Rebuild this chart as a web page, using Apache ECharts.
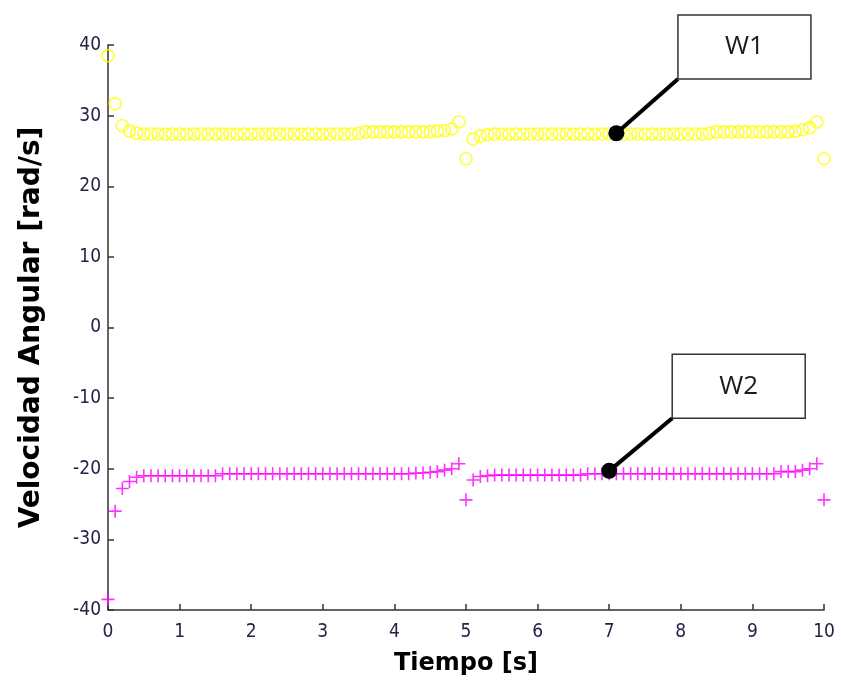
<!DOCTYPE html>
<html>
<head>
<meta charset="utf-8">
<script src="https://cdn.jsdelivr.net/npm/echarts@6/dist/echarts.min.js"></script>
<style>
  html, body { margin: 0; padding: 0; background: #fff; }
  #chart { width: 841px; height: 689px; }
</style>
</head>
<body>
<div id="chart"></div>
<script>
  // time samples [s]
  var tiempo = [
    0.0, 0.1, 0.2, 0.3, 0.4, 0.5, 0.6, 0.7, 0.8, 0.9,
    1.0, 1.1, 1.2, 1.3, 1.4, 1.5, 1.6, 1.7, 1.8, 1.9,
    2.0, 2.1, 2.2, 2.3, 2.4, 2.5, 2.6, 2.7, 2.8, 2.9,
    3.0, 3.1, 3.2, 3.3, 3.4, 3.5, 3.6, 3.7, 3.8, 3.9,
    4.0, 4.1, 4.2, 4.3, 4.4, 4.5, 4.6, 4.7, 4.8, 4.9,
    5.0, 5.1, 5.2, 5.3, 5.4, 5.5, 5.6, 5.7, 5.8, 5.9,
    6.0, 6.1, 6.2, 6.3, 6.4, 6.5, 6.6, 6.7, 6.8, 6.9,
    7.0, 7.1, 7.2, 7.3, 7.4, 7.5, 7.6, 7.7, 7.8, 7.9,
    8.0, 8.1, 8.2, 8.3, 8.4, 8.5, 8.6, 8.7, 8.8, 8.9,
    9.0, 9.1, 9.2, 9.3, 9.4, 9.5, 9.6, 9.7, 9.8, 9.9,
    10.0
  ];

  // W1 [rad/s]
  var w1 = [
    38.5, 31.7, 28.6, 27.8, 27.5, 27.4, 27.4, 27.4, 27.4, 27.4,
    27.4, 27.4, 27.4, 27.4, 27.4, 27.4, 27.4, 27.4, 27.4, 27.4,
    27.4, 27.4, 27.4, 27.4, 27.4, 27.4, 27.4, 27.4, 27.4, 27.4,
    27.4, 27.4, 27.4, 27.4, 27.4, 27.5, 27.7, 27.7, 27.7, 27.7,
    27.7, 27.7, 27.7, 27.7, 27.7, 27.7, 27.8, 27.9, 28.1, 29.1,
    23.9, 26.7, 27.1, 27.3, 27.4, 27.4, 27.4, 27.4, 27.4, 27.4,
    27.4, 27.4, 27.4, 27.4, 27.4, 27.4, 27.4, 27.4, 27.4, 27.4,
    27.4, 27.4, 27.4, 27.4, 27.4, 27.4, 27.4, 27.4, 27.4, 27.4,
    27.4, 27.4, 27.4, 27.4, 27.5, 27.7, 27.7, 27.7, 27.7, 27.7,
    27.7, 27.7, 27.7, 27.7, 27.7, 27.7, 27.8, 28.0, 28.3, 29.1,
    23.9
  ];

  // W2 [rad/s]
  var w2 = [
    -38.5, -26.0, -22.8, -21.8, -21.2, -21.0, -21.0, -21.0, -21.0, -21.0,
    -21.0, -21.0, -21.0, -21.0, -21.0, -21.0, -20.7, -20.7, -20.7, -20.7,
    -20.7, -20.7, -20.7, -20.7, -20.7, -20.7, -20.7, -20.7, -20.7, -20.7,
    -20.7, -20.7, -20.7, -20.7, -20.7, -20.7, -20.7, -20.7, -20.7, -20.7,
    -20.7, -20.7, -20.7, -20.6, -20.6, -20.5, -20.4, -20.2, -20.0, -19.3,
    -24.4, -21.6, -21.1, -21.0, -20.9, -20.9, -20.9, -20.9, -20.9, -20.9,
    -20.9, -20.9, -20.9, -20.9, -20.9, -20.9, -20.9, -20.7, -20.7, -20.7,
    -20.7, -20.7, -20.7, -20.7, -20.7, -20.7, -20.7, -20.7, -20.7, -20.7,
    -20.7, -20.7, -20.7, -20.7, -20.7, -20.7, -20.7, -20.7, -20.7, -20.7,
    -20.7, -20.7, -20.7, -20.7, -20.4, -20.4, -20.4, -20.2, -20.0, -19.3,
    -24.4
  ];

  // callouts: label, marked point, box corner (lower-left) in data units
  var calloutText = ['W1', 'W2'];
  var calloutPoint = [[7.1, 27.5], [7.0, -20.3]];
  var calloutCorner = [[7.96, 35.2], [7.88, -12.85]];

  var xTicks = [0, 1, 2, 3, 4, 5, 6, 7, 8, 9, 10];
  var yTicks = [-40, -30, -20, -10, 0, 10, 20, 30, 40];

  function pairs(xs, ys) {
    return xs.map(function (x, i) { return [x, ys[i]]; });
  }

  var labelFont = {
    fontFamily: '"Liberation Sans Narrow", "DejaVu Sans Condensed", "Liberation Sans", sans-serif',
    fontSize: 19,
    color: '#23234a'
  };

  var titleFont = {
    fontFamily: '"DejaVu Sans", sans-serif',
    fontWeight: 'bold',
    color: '#000'
  };

  var chart = echarts.init(document.getElementById('chart'), null, {renderer: 'canvas'});

  var option = {
    backgroundColor: '#ffffff',
    animation: false,
    grid: {left: 108, right: 17, top: 45, bottom: 79},
    xAxis: {
      type: 'value',
      min: xTicks[0],
      max: xTicks[xTicks.length - 1],
      interval: 1,
      name: 'Tiempo [s]',
      nameLocation: 'middle',
      nameGap: 42,
      nameTextStyle: Object.assign({fontSize: 24}, titleFont),
      axisLine: {onZero: false, lineStyle: {color: '#333', width: 1.5}},
      axisTick: {inside: true, length: 6, lineStyle: {color: '#333', width: 1.5}},
      axisLabel: Object.assign({margin: 13}, labelFont),
      splitLine: {show: false}
    },
    yAxis: {
      type: 'value',
      min: yTicks[0],
      max: yTicks[yTicks.length - 1],
      interval: 10,
      name: 'Velocidad Angular [rad/s]',
      nameLocation: 'middle',
      nameGap: 62,
      nameTextStyle: Object.assign({fontSize: 28}, titleFont),
      axisLine: {show: true, onZero: false, lineStyle: {color: '#333', width: 1.5}},
      axisTick: {show: true, inside: true, length: 6, lineStyle: {color: '#333', width: 1.5}},
      axisLabel: Object.assign({margin: 7}, labelFont),
      splitLine: {show: false}
    },
    series: [
      {
        name: 'W1',
        type: 'scatter',
        data: pairs(tiempo, w1),
        symbol: 'circle',
        symbolSize: 12,
        itemStyle: {color: 'rgba(0,0,0,0)', borderColor: '#ffff00', borderWidth: 1.6},
        clip: false
      },
      {
        name: 'W2',
        type: 'scatter',
        data: pairs(tiempo, w2),
        symbol: 'path://M0,6H12M6,0V12',
        symbolSize: 13,
        itemStyle: {color: 'rgba(0,0,0,0)', borderColor: '#ff00ff', borderWidth: 1.6},
        clip: false
      },
      {
        type: 'custom',
        data: calloutPoint.map(function (p, i) {
          return [p[0], p[1], calloutCorner[i][0], calloutCorner[i][1], i];
        }),
        clip: false,
        z: 10,
        renderItem: function (params, api) {
          var p = api.coord([api.value(0), api.value(1)]);
          var c = api.coord([api.value(2), api.value(3)]);
          var bw = 133, bh = 64;
          return {
            type: 'group',
            children: [
              {
                type: 'line',
                shape: {x1: p[0], y1: p[1], x2: c[0], y2: c[1]},
                style: {stroke: '#000', lineWidth: 4}
              },
              {
                type: 'circle',
                shape: {cx: p[0], cy: p[1], r: 8},
                style: {fill: '#000'}
              },
              {
                type: 'rect',
                shape: {x: c[0], y: c[1] - bh, width: bw, height: bh},
                style: {fill: '#fff', stroke: '#333', lineWidth: 1.5}
              },
              {
                type: 'text',
                x: c[0] + bw / 2,
                y: c[1] - bh / 2,
                style: {
                  text: calloutText[api.value(4)],
                  fontFamily: 'Open Sans',
                  fontSize: 26,
                  fill: '#1a1a1a',
                  align: 'center',
                  verticalAlign: 'middle'
                }
              }
            ]
          };
        }
      }
    ]
  };

  chart.setOption(option);
</script>
</body>
</html>
